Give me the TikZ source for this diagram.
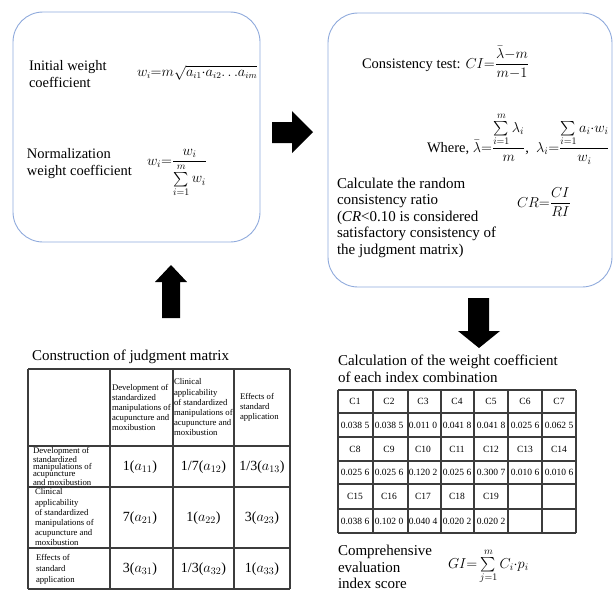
\documentclass[tikz,border=0pt]{standalone}
\usepackage{amsmath}
\usepackage{fontspec}
\setmainfont{Liberation Serif}
\definecolor{panelblue}{RGB}{143,170,220}
\definecolor{gridgray}{RGB}{60,60,60}
\begin{document}
\begin{tikzpicture}[x=1pt,y=-1pt,
  every node/.style={inner sep=0pt,outer sep=0pt},
  panel/.style={draw=panelblue,line width=0.9pt,rounded corners=30pt},
  body/.style={anchor=base west,font=\fontsize{14.5}{17}\selectfont},
  title/.style={anchor=base west,font=\fontsize{15}{17}\selectfont},
  blockarrow/.style={fill=black},
  grid/.style={draw=gridgray,line width=1.1pt},
  hdr/.style={anchor=west,align=left,font=\fontsize{8.7}{10.2}\selectfont},
  val/.style={anchor=center,font=\fontsize{14}{16}\selectfont},
  wt/.style={anchor=center,font=\fontsize{9.5}{11}\selectfont}]
\useasboundingbox (0,0) rectangle (616,590);

% ---------- left panel ----------
\draw[panel] (13,12) rectangle (260,242);
\node[body] (iw1) at (29,70) {Initial weight};
\node[body] (iw2) at (29,87) {coefficient};
\node[anchor=base west,font=\fontsize{13.5}{16}\selectfont] (f1) at (137,76)
  {$w_i{=}m\sqrt{a_{i1}{\cdot}a_{i2}{\ldots}a_{im}}$};
\node[body] (nw1) at (27,158) {Normalization};
\node[body] (nw2) at (27,175) {weight coefficient};
\node[anchor=base west,font=\fontsize{14}{16}\selectfont] (f2) at (147,165)
  {$w_i{=}\dfrac{w_i}{\textstyle\sum\limits_{i=1}^{m} w_i}$};

% ---------- right panel ----------
\draw[panel] (328,13) rectangle (612,287);
\node[body] (ct) at (362,68) {Consistency test: $CI{=}\dfrac{\bar{\lambda}{-}m}{m{-}1}$};
\node[body] (wh) at (427,152) {Where, $\bar{\lambda}{=}\dfrac{\sum\limits_{i=1}^{m}\lambda_i}{m}$, \ $\lambda_i{=}\dfrac{\sum\limits_{i=1}a_i{\cdot}w_i}{w_i}$};
\node[title] (cr1) at (337,188) {Calculate the random};
\node[title] (cr2) at (337,204.5) {consistency ratio};
\node[title] (cr3) at (337,221) {(\textit{CR}<0.10 is considered};
\node[title] (cr4) at (337,237.5) {satisfactory consistency of};
\node[title] (cr5) at (337,254) {the judgment matrix)};
\node[anchor=base west,font=\fontsize{14.5}{16}\selectfont] (f3) at (517,207) {$CR{=}\dfrac{CI}{RI}$};

% ---------- block arrows ----------
\fill[blockarrow] (272,122) -- (292,122) -- (292,111) -- (313,132) -- (292,153) -- (292,143) -- (272,143) -- cycle;
\fill[blockarrow] (162,318) -- (162,282) -- (155,282) -- (171,265) -- (187,282) -- (180,282) -- (180,318) -- cycle;
\fill[blockarrow] (468,298) -- (489,298) -- (489,331) -- (500,331) -- (479,348) -- (458,331) -- (468,331) -- cycle;

% ---------- judgment matrix ----------
\node[title] (jt) at (32,360) {Construction of judgment matrix};
\foreach \xx in {28,110,173,234,290} \draw[grid] (\xx,369) -- (\xx,589);
\foreach \yy in {369,446,487,548,589} \draw[grid] (28,\yy) -- (290,\yy);
\node[hdr] (h1) at (112,407.5) {Development of\\standardized\\manipulations of\\acupuncture and\\moxibustion};
\node[hdr] (h2) at (174,407.5) {Clinical\\applicability\\of standardized\\manipulations of\\acupuncture and\\moxibustion};
\node[hdr] (h3) at (240,407.5) {Effects of\\standard\\application};
\node[hdr,font=\fontsize{8.7}{7.4}\selectfont] (r1) at (33,466.5) {Development of\\standardized\\manipulations of\\acupuncture\\and moxibustion};
\node[hdr] (r2) at (35,517.5) {Clinical\\applicability\\of standardized\\manipulations of\\acupuncture and\\moxibustion};
\node[hdr,font=\fontsize{8.7}{11}\selectfont] (r3) at (36,569) {Effects of\\standard\\application};
\node[val] (v11) at (140,467) {1($a_{11}$)};
\node[val] (v12) at (203.5,467) {1/7($a_{12}$)};
\node[val] (v13) at (262,467) {1/3($a_{13}$)};
\node[val] (v21) at (140,518) {7($a_{21}$)};
\node[val] (v22) at (203.5,518) {1($a_{22}$)};
\node[val] (v23) at (262,518) {3($a_{23}$)};
\node[val] (v31) at (140,569) {3($a_{31}$)};
\node[val] (v32) at (203.5,569) {1/3($a_{32}$)};
\node[val] (v33) at (262,569) {1($a_{33}$)};

% ---------- weight table ----------
\node[title] (wt1) at (338,365) {Calculation of the weight coefficient};
\node[title] (wt2) at (338,382) {of each index combination};
\foreach \xx in {338,373,408,441,474,508,542,576} \draw[grid] (\xx,390) -- (\xx,533);
\foreach \yy in {390,413,437,461,484,509,533} \draw[grid] (338,\yy) -- (576,\yy);
\foreach \t [count=\k] in {C1,C2,C3,C4,C5,C6,C7}
  \node[wt] (ca\k) at ({338+(\k-0.5)*34},401.5) {\t};
\foreach \t [count=\k] in {0.038 5,0.038 5,0.011 0,0.041 8,0.041 8,0.025 6,0.062 5}
  \node[wt] (va\k) at ({338+(\k-0.5)*34},425) {\t};
\foreach \t [count=\k] in {C8,C9,C10,C11,C12,C13,C14}
  \node[wt] (cb\k) at ({338+(\k-0.5)*34},449) {\t};
\foreach \t [count=\k] in {0.025 6,0.025 6,0.120 2,0.025 6,0.300 7,0.010 6,0.010 6}
  \node[wt] (vb\k) at ({338+(\k-0.5)*34},472.5) {\t};
\foreach \t [count=\k] in {C15,C16,C17,C18,C19}
  \node[wt] (cc\k) at ({338+(\k-0.5)*34},496.5) {\t};
\foreach \t [count=\k] in {0.038 6,0.102 0,0.040 4,0.020 2,0.020 2}
  \node[wt] (vc\k) at ({338+(\k-0.5)*34},521) {\t};

% ---------- comprehensive score ----------
\node[title] (gs1) at (338,555) {Comprehensive};
\node[title] (gs2) at (338,572) {evaluation};
\node[title] (gs3) at (338,588) {index score};
\node[anchor=base west,font=\fontsize{14}{16}\selectfont] (f4) at (448,568)
  {$GI{=}\sum\limits_{j=1}^{m} C_i{\cdot}p_i$};
\end{tikzpicture}
\end{document}
